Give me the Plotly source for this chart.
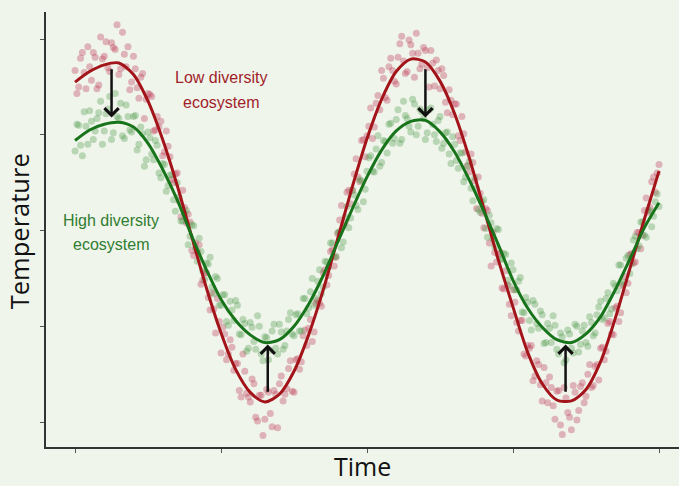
import plotly.graph_objects as go

# ---- fitted curves ----
curve_time = [0.0, 0.1, 0.2, 0.3, 0.4, 0.5, 0.6, 0.7, 0.8, 0.9, 1.0, 1.1, 1.2, 1.3, 1.4, 1.5, 1.6, 1.7, 1.8, 1.9,
              2.0, 2.1, 2.2, 2.3, 2.4, 2.5, 2.6, 2.7, 2.8, 2.9, 3.0, 3.1, 3.2, 3.3, 3.4, 3.5, 3.6, 3.7, 3.8, 3.9, 4.0]
low_div_curve = [1.55, 1.66, 1.73, 1.75, 1.63, 1.35, 0.95, 0.47, -0.07, -0.60, -1.07, -1.45, -1.69, -1.79, -1.71,
                 -1.47, -1.09, -0.62, -0.08, 0.46, 0.96, 1.37, 1.66, 1.79, 1.76, 1.56, 1.22, 0.76, 0.23, -0.31,
                 -0.80, -1.27, -1.60, -1.77, -1.78, -1.66, -1.37, -0.92, -0.40, 0.12, 0.62]
high_div_curve = [0.94, 1.05, 1.11, 1.13, 1.08, 0.91, 0.64, 0.32, -0.06, -0.41, -0.72, -0.94, -1.09, -1.17, -1.14,
                  -1.00, -0.77, -0.47, -0.12, 0.23, 0.56, 0.84, 1.04, 1.14, 1.15, 1.03, 0.82, 0.53, 0.20, -0.15,
                  -0.52, -0.81, -1.01, -1.14, -1.17, -1.08, -0.90, -0.62, -0.30, 0.03, 0.29]

sample_time = [0.0, 0.025, 0.05, 0.075, 0.1, 0.125, 0.15, 0.175, 0.2, 0.225, 0.25, 0.275, 0.3, 0.325, 0.35, 0.375,
               0.4, 0.425, 0.45, 0.475, 0.5, 0.525, 0.55, 0.575, 0.6, 0.625, 0.65, 0.675, 0.7, 0.725, 0.75, 0.775,
               0.8, 0.825, 0.85, 0.875, 0.9, 0.925, 0.95, 0.975, 1.0, 1.025, 1.05, 1.075, 1.1, 1.125, 1.15, 1.175,
               1.2, 1.225, 1.25, 1.275, 1.3, 1.325, 1.35, 1.375, 1.4, 1.425, 1.45, 1.475, 1.5, 1.525, 1.55, 1.575,
               1.6, 1.625, 1.65, 1.675, 1.7, 1.725, 1.75, 1.775, 1.8, 1.825, 1.85, 1.875, 1.9, 1.925, 1.95, 1.975,
               2.0, 2.025, 2.05, 2.075, 2.1, 2.125, 2.15, 2.175, 2.2, 2.225, 2.25, 2.275, 2.3, 2.325, 2.35, 2.375,
               2.4, 2.425, 2.45, 2.475, 2.5, 2.525, 2.55, 2.575, 2.6, 2.625, 2.65, 2.675, 2.7, 2.725, 2.75, 2.775,
               2.8, 2.825, 2.85, 2.875, 2.9, 2.925, 2.95, 2.975, 3.0, 3.025, 3.05, 3.075, 3.1, 3.125, 3.15, 3.175,
               3.2, 3.225, 3.25, 3.275, 3.3, 3.325, 3.35, 3.375, 3.4, 3.425, 3.45, 3.475, 3.5, 3.525, 3.55, 3.575,
               3.6, 3.625, 3.65, 3.675, 3.7, 3.725, 3.75, 3.775, 3.8, 3.825, 3.85, 3.875, 3.9, 3.925, 3.95, 3.975,
               4.0]
low_div_temp = [1.67, 1.50, 1.86, 1.48, 1.71, 1.86, 1.48, 2.02, 1.82, 1.70, 1.96, 1.89, 1.63, 2.07, 1.71, 1.47,
                1.82, 1.49, 1.60, 1.17, 1.43, 1.40, 1.05, 1.08, 0.78, 1.04, 0.77, 0.50, 0.60, 0.14, 0.24, 0.17,
                -0.21, -0.13, -0.15, -0.52, -0.44, -0.83, -0.82, -0.71, -1.28, -1.08, -1.29, -1.22, -1.39, -1.67, -1.29, -1.70,
                -1.79, -1.60, -1.99, -1.72, -1.97, -1.69, -2.05, -1.71, -1.60, -1.78, -1.65, -1.36, -1.69, -1.34, -1.37, -1.04,
                -1.02, -1.16, -0.76, -0.76, -0.44, -0.57, -0.22, -0.37, -0.03, 0.26, 0.08, 0.42, 0.42, 0.75, 0.51, 0.95,
                0.99, 1.28, 1.08, 1.41, 1.67, 1.39, 1.71, 1.67, 1.53, 1.95, 1.77, 1.66, 1.94, 1.60, 1.85, 1.74,
                1.88, 1.50, 1.75, 1.78, 1.48, 1.62, 1.23, 1.36, 1.32, 0.99, 1.19, 0.82, 0.61, 0.71, 0.23, 0.39,
                0.03, 0.21, -0.37, -0.23, -0.25, -0.60, -0.42, -0.77, -0.62, -0.96, -0.94, -1.29, -1.20, -1.20, -1.52, -1.40,
                -1.78, -1.59, -1.53, -1.83, -1.68, -2.03, -1.64, -1.90, -2.08, -1.69, -1.88, -1.59, -1.73, -1.40, -1.62, -1.40,
                -1.23, -1.35, -0.97, -1.08, -0.81, -0.95, -0.58, -0.65, -0.25, -0.34, -0.02, -0.19, 0.21, 0.19, 0.51, 0.40,
                0.69]
high_div_temp = [0.83, 1.10, 0.78, 1.09, 1.25, 0.95, 1.17, 1.35, 1.04, 1.27, 0.95, 1.43, 1.17, 0.99, 1.31, 1.05,
                 1.19, 0.84, 1.08, 0.67, 1.03, 0.80, 0.94, 0.60, 0.70, 0.41, 0.58, 0.32, 0.50, 0.10, 0.18, -0.15,
                 0.06, -0.18, -0.08, -0.42, -0.34, -0.28, -0.66, -0.50, -0.78, -0.67, -0.99, -0.83, -0.73, -1.08, -0.93, -1.26,
                 -0.96, -1.16, -0.89, -1.29, -1.11, -1.35, -1.05, -1.23, -0.98, -1.24, -1.05, -0.86, -1.10, -0.87, -1.05, -0.71,
                 -0.81, -0.50, -0.71, -0.41, -0.59, -0.33, -0.13, -0.28, -0.02, -0.18, 0.14, 0.03, 0.42, 0.26, 0.53, 0.30,
                 0.62, 0.78, 0.61, 0.99, 0.71, 0.93, 1.11, 0.91, 1.16, 0.91, 1.35, 1.17, 1.03, 1.32, 1.09, 1.24,
                 0.95, 1.26, 1.11, 0.93, 1.19, 0.91, 1.03, 0.70, 0.90, 0.65, 0.81, 0.56, 0.72, 0.31, 0.44, 0.19,
                 0.32, -0.07, 0.08, -0.17, 0.01, -0.30, -0.25, -0.58, -0.41, -0.62, -0.49, -0.86, -0.75, -1.04, -0.77, -1.02,
                 -0.88, -1.17, -1.02, -0.89, -1.24, -1.07, -1.38, -1.04, -1.23, -0.98, -1.27, -1.05, -1.17, -0.90, -1.10, -0.88,
                 -0.74, -0.91, -0.65, -0.82, -0.58, -0.36, -0.56, -0.29, -0.45, -0.10, -0.19, 0.09, -0.05, 0.21, 0.04, 0.30,
                 0.25]

# second batch of observations, taken between the first ones
sample_time_b = [0.0125, 0.0375, 0.0625, 0.0875, 0.1125, 0.1375, 0.1625, 0.1875, 0.2125, 0.2375, 0.2625, 0.2875,
                 0.3125, 0.3375, 0.3625, 0.3875, 0.4125, 0.4375, 0.4625, 0.4875, 0.5125, 0.5375, 0.5625, 0.5875,
                 0.6125, 0.6375, 0.6625, 0.6875, 0.7125, 0.7375, 0.7625, 0.7875, 0.8125, 0.8375, 0.8625, 0.8875,
                 0.9125, 0.9375, 0.9625, 0.9875, 1.0125, 1.0375, 1.0625, 1.0875, 1.1125, 1.1375, 1.1625, 1.1875,
                 1.2125, 1.2375, 1.2625, 1.2875, 1.3125, 1.3375, 1.3625, 1.3875, 1.4125, 1.4375, 1.4625, 1.4875,
                 1.5125, 1.5375, 1.5625, 1.5875, 1.6125, 1.6375, 1.6625, 1.6875, 1.7125, 1.7375, 1.7625, 1.7875,
                 1.8125, 1.8375, 1.8625, 1.8875, 1.9125, 1.9375, 1.9625, 1.9875, 2.0125, 2.0375, 2.0625, 2.0875,
                 2.1125, 2.1375, 2.1625, 2.1875, 2.2125, 2.2375, 2.2625, 2.2875, 2.3125, 2.3375, 2.3625, 2.3875,
                 2.4125, 2.4375, 2.4625, 2.4875, 2.5125, 2.5375, 2.5625, 2.5875, 2.6125, 2.6375, 2.6625, 2.6875,
                 2.7125, 2.7375, 2.7625, 2.7875, 2.8125, 2.8375, 2.8625, 2.8875, 2.9125, 2.9375, 2.9625, 2.9875,
                 3.0125, 3.0375, 3.0625, 3.0875, 3.1125, 3.1375, 3.1625, 3.1875, 3.2125, 3.2375, 3.2625, 3.2875,
                 3.3125, 3.3375, 3.3625, 3.3875, 3.4125, 3.4375, 3.4625, 3.4875, 3.5125, 3.5375, 3.5625, 3.5875,
                 3.6125, 3.6375, 3.6625, 3.6875, 3.7125, 3.7375, 3.7625, 3.7875, 3.8125, 3.8375, 3.8625, 3.8875,
                 3.9125, 3.9375, 3.9625, 3.9875]
low_div_temp_b = [1.43, 1.80, 1.65, 1.92, 1.57, 1.81, 1.52, 1.79, 1.97, 1.66, 1.91, 2.15,
                  1.69, 1.84, 1.92, 1.55, 1.69, 1.38, 1.64, 1.37, 1.42, 1.04, 1.19, 1.14,
                  0.82, 0.88, 0.53, 0.59, 0.31, 0.42, 0.08, 0.09, -0.26, -0.22, -0.56, -0.44,
                  -0.70, -0.65, -1.07, -0.95, -1.01, -1.35, -1.14, -1.46, -1.39, -1.74, -1.47, -1.74,
                  -1.55, -1.95, -1.72, -2.14, -1.66, -1.91, -1.67, -2.06, -1.52, -1.71, -1.44, -1.68,
                  -1.35, -1.45, -1.10, -1.20, -0.93, -1.06, -0.73, -0.79, -0.41, -0.47, -0.20, -0.28,
                  0.11, 0.05, 0.40, 0.28, 0.59, 0.56, 0.94, 0.77, 1.09, 0.96, 1.33, 1.26,
                  1.59, 1.36, 1.80, 1.56, 1.81, 2.03, 1.64, 1.99, 1.85, 2.06, 1.69, 1.91,
                  1.70, 1.88, 1.51, 1.67, 1.69, 1.34, 1.47, 1.21, 1.32, 0.94, 1.01, 0.68,
                  0.80, 0.52, 0.56, 0.18, 0.23, -0.13, -0.02, -0.33, -0.23, -0.61, -0.57, -0.89,
                  -0.75, -1.05, -0.94, -1.31, -1.23, -1.57, -1.36, -1.61, -1.43, -1.80, -1.64, -1.97,
                  -1.67, -2.13, -1.75, -1.95, -1.62, -1.98, -1.63, -1.80, -1.50, -1.64, -1.42, -1.56,
                  -1.22, -1.26, -0.95, -1.09, -0.79, -0.86, -0.48, -0.55, -0.24, -0.33, -0.02, -0.05,
                  0.34, 0.24, 0.56, 0.60]
high_div_temp_b = [1.11, 0.89, 1.24, 0.90, 1.14, 1.04, 1.23, 0.90, 1.22, 1.40, 1.02, 1.19,
                   1.33, 0.96, 1.19, 1.03, 1.20, 0.90, 1.01, 0.74, 0.97, 0.74, 0.89, 0.55,
                   0.69, 0.47, 0.58, 0.20, 0.35, 0.10, 0.21, -0.06, 0.05, -0.32, -0.22, -0.51,
                   -0.35, -0.59, -0.48, -0.78, -0.67, -0.95, -0.74, -0.94, -0.78, -1.09, -0.97, -1.23,
                   -1.01, -1.24, -1.00, -1.36, -1.12, -1.25, -0.98, -1.29, -1.06, -1.20, -0.93, -1.08,
                   -0.88, -1.05, -0.71, -0.87, -0.64, -0.78, -0.53, -0.66, -0.32, -0.38, -0.13, -0.27,
                   -0.01, -0.12, 0.25, 0.13, 0.37, 0.22, 0.52, 0.43, 0.76, 0.62, 0.85, 0.67,
                   0.94, 0.81, 1.12, 0.96, 1.26, 0.95, 1.20, 1.09, 1.37, 1.00, 1.27, 1.17,
                   1.02, 1.28, 1.00, 1.15, 0.86, 1.02, 0.80, 0.98, 0.73, 0.81, 0.51, 0.67,
                   0.44, 0.55, 0.22, 0.30, 0.02, 0.16, -0.09, 0.02, -0.30, -0.24, -0.52, -0.34,
                   -0.62, -0.53, -0.85, -0.70, -0.94, -0.73, -0.97, -0.84, -1.18, -0.97, -1.17, -0.99,
                   -1.29, -1.11, -1.35, -1.08, -1.28, -1.00, -1.19, -0.99, -1.21, -0.96, -1.07, -0.80,
                   -0.93, -0.71, -0.87, -0.55, -0.63, -0.36, -0.54, -0.26, -0.35, -0.06, -0.16, 0.09,
                   -0.07, 0.21, 0.15, 0.38]

# ---- arrows (tail -> head) ----
arrow_time = [0.25, 1.32, 2.40, 3.36]
arrow_from = [1.70, -1.70, 1.70, -1.70]
arrow_to = [1.18, -1.19, 1.18, -1.19]

axis_ticks_x = [0, 1, 2, 3, 4]
axis_ticks_y = [-2, -1, 0, 1, 2]

BG = "#f0f5ec"
RED_LINE = "#a3141a"
GREEN_LINE = "#17741b"

obs_time = sample_time + sample_time_b
low_obs = low_div_temp + low_div_temp_b
high_obs = high_div_temp + high_div_temp_b

fig = go.Figure()
fig.add_trace(go.Scatter(x=obs_time, y=low_obs, mode="markers",
                         marker=dict(size=7, color="rgb(185,45,76)", opacity=0.33, line=dict(width=0)),
                         hoverinfo="skip", showlegend=False))
fig.add_trace(go.Scatter(x=obs_time, y=high_obs, mode="markers",
                         marker=dict(size=7, color="rgb(70,150,66)", opacity=0.33, line=dict(width=0)),
                         hoverinfo="skip", showlegend=False))
fig.add_trace(go.Scatter(x=curve_time, y=low_div_curve, mode="lines",
                         line=dict(color=RED_LINE, width=3, shape="spline", smoothing=0.8),
                         showlegend=False))
fig.add_trace(go.Scatter(x=curve_time, y=high_div_curve, mode="lines",
                         line=dict(color=GREEN_LINE, width=3, shape="spline", smoothing=0.8),
                         showlegend=False))

annotations = []
for t, a, b in zip(arrow_time, arrow_from, arrow_to):
    annotations.append(dict(x=t, y=b, ax=t, ay=a, xref="x", yref="y", axref="x", ayref="y",
                            text="", showarrow=True, arrowhead=4, arrowsize=1.1, arrowwidth=2.5,
                            arrowcolor="#111111", standoff=0, startstandoff=0))

label_font = "Liberation Sans, Arial, sans-serif"
title_font = "Open Sans, sans-serif"
annotations += [
    dict(x=1.0, y=1.60, xref="x", yref="y", text="Low diversity", showarrow=False,
         font=dict(family=label_font, size=16, color="#a01e2a")),
    dict(x=1.0, y=1.34, xref="x", yref="y", text="ecosystem", showarrow=False,
         font=dict(family=label_font, size=16, color="#a01e2a")),
    dict(x=0.247, y=0.10, xref="x", yref="y", text="High diversity", showarrow=False,
         font=dict(family=label_font, size=16, color="#2f7d2f")),
    dict(x=0.247, y=-0.15, xref="x", yref="y", text="ecosystem", showarrow=False,
         font=dict(family=label_font, size=16, color="#2f7d2f")),
    dict(x=0.5, y=0, xref="paper", yref="paper", text="Time", showarrow=False,
         yanchor="bottom", yshift=-38, font=dict(family=title_font, size=25, color="#111111")),
    dict(x=0, y=0.496, xref="paper", yref="paper", text="Temperature", showarrow=False, textangle=-90,
         xanchor="center", xshift=-27, font=dict(family=title_font, size=25.5, color="#111111")),
]

fig.update_layout(
    width=679, height=486,
    margin=dict(l=46, r=0, t=12, b=39),
    paper_bgcolor=BG, plot_bgcolor=BG,
    annotations=annotations,
    xaxis=dict(range=[-0.199, 4.137], showline=True, linecolor="#333333", linewidth=1.5,
               ticks="outside", ticklen=4, tickwidth=1, tickcolor="#555555",
               tickvals=axis_ticks_x, showticklabels=False, showgrid=False, zeroline=False),
    yaxis=dict(range=[-2.261, 2.282], showline=True, linecolor="#333333", linewidth=1.5,
               ticks="outside", ticklen=4, tickwidth=1, tickcolor="#555555",
               tickvals=axis_ticks_y, showticklabels=False, showgrid=False, zeroline=False),
)

fig.write_html("out.html", config={"displayModeBar": False},
               post_script="document.body.style.margin='0';document.body.style.background='" + BG + "';")
